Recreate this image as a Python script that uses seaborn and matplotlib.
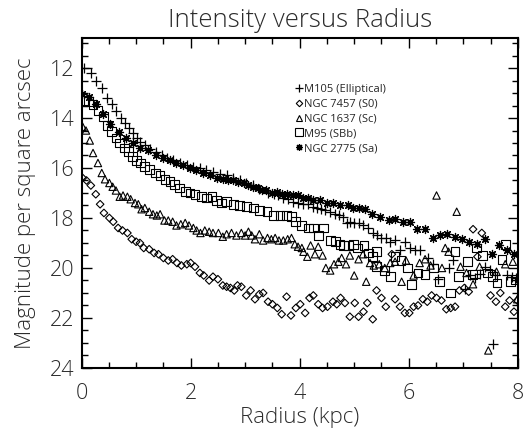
import matplotlib
matplotlib.use("Agg")
import matplotlib.pyplot as plt
from matplotlib.lines import Line2D
from matplotlib.ticker import MultipleLocator
import pandas as pd
import seaborn as sns

# (radius kpc, magnitude per square arcsec)
m105 = [
    (0.04, 12.0), (0.18, 12.2), (0.26, 12.5), (0.37, 12.8), (0.46, 13.2), (0.55, 13.45),
    (0.64, 13.7), (0.72, 14.0), (0.79, 14.2), (0.87, 14.4), (0.95, 14.6), (1.01, 14.8),
    (1.08, 14.95), (1.16, 15.1), (1.25, 15.25), (1.36, 15.35), (1.47, 15.5), (1.56, 15.6),
    (1.68, 15.7), (1.80, 15.8), (1.93, 15.9), (2.05, 15.95), (2.17, 16.0), (2.29, 16.1),
    (2.41, 16.15), (2.54, 16.25), (2.66, 16.3), (2.78, 16.4), (2.90, 16.5), (3.02, 16.6),
    (3.14, 16.7), (3.26, 16.85), (3.42, 17.0), (3.52, 17.05), (3.61, 17.1), (3.70, 17.2),
    (3.79, 17.25), (3.88, 17.35), (3.97, 17.4), (4.07, 17.45), (4.16, 17.45), (4.24, 17.55),
    (4.31, 17.6), (4.39, 17.65), (4.46, 17.7), (4.56, 17.75), (4.65, 17.85), (4.72, 17.9),
    (4.80, 17.95), (4.86, 18.2), (4.92, 18.15), (5.00, 18.2), (5.08, 18.2), (5.17, 18.3),
    (5.26, 18.4), (5.35, 18.6), (5.42, 18.7), (5.50, 18.8), (5.58, 18.8), (5.66, 18.95),
    (5.75, 18.9), (5.84, 19.3), (5.93, 18.95), (6.02, 19.2), (6.11, 19.3), (6.21, 19.3),
    (6.36, 19.6), (6.45, 19.85), (6.54, 20.45), (6.73, 20.0), (6.82, 19.7), (7.03, 20.85),
    (7.12, 20.3), (7.21, 20.4), (7.31, 20.25), (7.40, 19.95), (7.49, 20.1), (7.55, 23.05),
    (7.58, 20.3), (7.80, 20.3), (7.89, 20.35), (7.97, 20.4),
]
ngc7457 = [
    (0.02, 16.4), (0.09, 16.5), (0.17, 16.7), (0.26, 17.05), (0.34, 17.45), (0.41, 17.8),
    (0.51, 18.0), (0.58, 18.15), (0.67, 18.4), (0.75, 18.5), (0.84, 18.6), (0.92, 18.85),
    (1.00, 18.95), (1.07, 19.0), (1.14, 19.2), (1.24, 19.25), (1.33, 19.4), (1.41, 19.45),
    (1.50, 19.6), (1.59, 19.7), (1.67, 19.65), (1.75, 19.8), (1.83, 19.9), (1.93, 19.85),
    (2.00, 19.8), (2.08, 19.95), (2.17, 20.2), (2.24, 20.3), (2.34, 20.5), (2.41, 20.35),
    (2.50, 20.45), (2.59, 20.7), (2.66, 20.75), (2.73, 20.8), (2.80, 20.9), (2.86, 20.7),
    (2.93, 20.75), (3.02, 21.1), (3.10, 20.9), (3.18, 21.25), (3.26, 21.05), (3.33, 21.0),
    (3.42, 21.35), (3.50, 21.45), (3.59, 21.6), (3.67, 21.85), (3.76, 21.15), (3.84, 21.9),
    (3.93, 21.6), (4.01, 21.45), (4.10, 21.8), (4.18, 21.2), (4.25, 21.1), (4.34, 21.45),
    (4.42, 21.6), (4.51, 21.55), (4.61, 21.35), (4.68, 21.45), (4.75, 21.2), (4.83, 21.4),
    (4.92, 21.95), (5.01, 21.4), (5.08, 21.95), (5.17, 21.75), (5.24, 21.4), (5.34, 22.05),
    (5.41, 20.9), (5.50, 21.2), (5.58, 21.55), (5.69, 19.45), (5.75, 21.25), (5.84, 21.55),
    (5.93, 21.8), (6.01, 21.8), (6.09, 21.55), (6.17, 21.5), (6.26, 21.25), (6.34, 21.35),
    (6.42, 21.1), (6.51, 21.2), (6.60, 21.3), (6.69, 21.65), (6.77, 21.6), (6.85, 21.55),
    (6.93, 20.9), (7.02, 20.8), (7.10, 20.95), (7.18, 18.45), (7.26, 19.55), (7.34, 18.6),
    (7.50, 21.1), (7.60, 21.35), (7.68, 21.0), (7.77, 21.55), (7.85, 21.3), (7.93, 21.75),
    (7.99, 21.3),
]
ngc1637 = [
    (0.02, 14.35), (0.08, 14.5), (0.15, 14.9), (0.21, 15.4), (0.30, 15.8), (0.37, 16.2),
    (0.43, 16.45), (0.51, 16.6), (0.57, 16.75), (0.63, 16.9), (0.70, 17.15), (0.76, 17.1),
    (0.84, 17.15), (0.90, 17.25), (0.98, 17.4), (1.04, 17.45), (1.10, 17.65), (1.16, 17.6),
    (1.24, 17.75), (1.31, 17.85), (1.38, 17.9), (1.44, 17.85), (1.52, 18.1), (1.59, 18.1),
    (1.67, 18.15), (1.74, 18.3), (1.82, 18.25), (1.90, 18.2), (1.97, 18.3), (2.05, 18.4),
    (2.11, 18.5), (2.18, 18.6), (2.26, 18.5), (2.34, 18.55), (2.41, 18.6), (2.51, 18.6),
    (2.59, 18.75), (2.66, 18.65), (2.75, 18.6), (2.84, 18.7), (2.93, 18.6), (3.00, 18.7),
    (3.06, 18.55), (3.12, 18.7), (3.18, 18.85), (3.26, 18.65), (3.33, 18.9), (3.41, 18.8),
    (3.48, 18.85), (3.55, 18.8), (3.62, 18.9), (3.70, 18.9), (3.78, 18.85), (3.85, 18.8),
    (3.91, 19.05), (3.97, 19.15), (4.04, 19.2), (4.07, 19.35), (4.14, 19.55), (4.20, 19.1),
    (4.28, 19.45), (4.34, 19.15), (4.42, 19.5), (4.48, 20.0), (4.56, 20.1), (4.63, 19.85),
    (4.71, 19.75), (4.77, 19.6), (4.85, 19.85), (4.92, 19.5), (5.00, 20.3), (5.08, 19.65),
    (5.16, 19.45), (5.22, 20.55), (5.29, 19.8), (5.36, 19.9), (5.46, 19.85), (5.56, 20.0),
    (5.66, 19.8), (5.75, 19.75), (5.87, 20.55), (5.95, 19.7), (6.09, 20.3), (6.20, 19.8),
    (6.30, 19.65), (6.40, 19.9), (6.51, 17.1), (6.61, 20.0), (6.67, 19.2), (6.73, 19.35),
    (6.88, 17.75), (6.95, 19.95), (7.06, 20.2), (7.18, 20.65), (7.30, 19.95), (7.46, 23.3),
    (7.61, 20.15), (7.77, 19.85), (7.91, 19.75), (7.99, 21.25),
]
m95 = [
    (0.03, 13.3), (0.12, 13.35), (0.21, 13.45), (0.30, 13.7), (0.40, 13.95), (0.47, 14.3),
    (0.55, 14.55), (0.63, 14.8), (0.70, 15.0), (0.78, 15.2), (0.86, 15.35), (0.94, 15.55),
    (1.01, 15.7), (1.08, 15.8), (1.16, 15.95), (1.25, 16.05), (1.35, 16.2), (1.44, 16.3),
    (1.53, 16.45), (1.62, 16.55), (1.71, 16.65), (1.80, 16.8), (1.90, 16.95), (1.99, 17.0),
    (2.08, 17.05), (2.20, 17.15), (2.29, 17.2), (2.39, 17.15), (2.48, 17.3), (2.57, 17.4),
    (2.66, 17.35), (2.78, 17.45), (2.90, 17.5), (3.02, 17.55), (3.15, 17.6), (3.27, 17.7),
    (3.40, 17.75), (3.52, 17.9), (3.64, 17.9), (3.76, 17.9), (3.85, 17.95), (3.93, 18.15),
    (4.04, 18.3), (4.16, 18.4), (4.25, 18.4), (4.34, 18.7), (4.43, 18.4), (4.57, 18.9),
    (4.65, 18.95), (4.74, 19.05), (4.81, 19.1), (4.89, 19.1), (4.98, 19.05), (5.06, 19.2),
    (5.18, 19.1), (5.26, 19.4), (5.34, 19.55), (5.41, 19.35), (5.41, 19.95), (5.55, 20.1),
    (5.66, 20.35), (5.75, 19.55), (5.86, 19.7), (5.98, 20.0), (6.05, 20.65), (6.17, 20.2),
    (6.30, 20.25), (6.45, 20.0), (6.57, 20.55), (6.76, 21.0), (6.85, 19.35), (6.91, 20.35),
    (7.08, 19.75), (7.17, 20.25), (7.25, 19.2), (7.35, 19.5), (7.44, 20.2), (7.53, 20.35),
    (7.62, 20.6), (7.71, 19.65), (7.77, 19.05), (7.86, 20.55), (7.95, 20.45),
]
ngc2775 = [
    (0.00, 13.05), (0.14, 13.15), (0.27, 13.45), (0.40, 13.85), (0.53, 14.25), (0.69, 14.55),
    (0.81, 14.8), (0.95, 15.0), (1.07, 15.2), (1.22, 15.3), (1.36, 15.5), (1.50, 15.6),
    (1.62, 15.7), (1.74, 15.8), (1.86, 15.9), (1.98, 16.0), (2.10, 16.1), (2.22, 16.2),
    (2.35, 16.3), (2.48, 16.4), (2.60, 16.45), (2.69, 16.5), (2.78, 16.5), (2.87, 16.55),
    (2.98, 16.6), (3.06, 16.7), (3.15, 16.75), (3.24, 16.8), (3.30, 16.9), (3.39, 16.9),
    (3.49, 17.0), (3.58, 16.95), (3.67, 17.05), (3.76, 17.05), (3.87, 17.1), (3.97, 17.1),
    (4.07, 17.2), (4.16, 17.2), (4.25, 17.3), (4.37, 17.3), (4.50, 17.4), (4.62, 17.4),
    (4.74, 17.5), (4.89, 17.5), (4.98, 17.6), (5.08, 17.6), (5.20, 17.65), (5.32, 17.85),
    (5.47, 17.95), (5.63, 18.1), (5.75, 18.05), (5.89, 18.15), (6.02, 18.15), (6.16, 18.45),
    (6.30, 18.45), (6.44, 18.8), (6.57, 18.7), (6.71, 18.65), (6.85, 18.75), (6.97, 18.85),
    (7.11, 18.95), (7.25, 19.05), (7.40, 18.85), (7.52, 19.45), (7.66, 19.1), (7.80, 19.3),
    (7.93, 19.45),
]

galaxies = ["M105 (Elliptical)", "NGC 7457 (S0)", "NGC 1637 (Sc)", "M95 (SBb)", "NGC 2775 (Sa)"]
profiles = [m105, ngc7457, ngc1637, m95, ngc2775]

rows = []
for name, prof in zip(galaxies, profiles):
    for r, mag in prof:
        rows.append({"galaxy": name, "radius": r, "mag": mag})
df = pd.DataFrame(rows)

sns.set_style("ticks")
plt.rcParams["font.family"] = ["Open Sans", "DejaVu Sans"]
plt.rcParams["font.weight"] = "light"
plt.rcParams["axes.labelweight"] = "light"
plt.rcParams["axes.titleweight"] = "light"

# marker, size, filled-shape?
styles = {
    "M105 (Elliptical)": ("+", 50, False),
    "NGC 7457 (S0)": ("D", 15, True),
    "NGC 1637 (Sc)": ("^", 28, True),
    "M95 (SBb)": ("s", 40, True),
    "NGC 2775 (Sa)": ((8, 2, 0), 34, False),
}

fig, ax = plt.subplots(figsize=(5.23, 4.37), dpi=100)
fig.subplots_adjust(left=0.156, right=0.990, bottom=0.158, top=0.913)

for name in galaxies:
    sub = df[df["galaxy"] == name]
    m, s, filled = styles[name]
    if filled:
        sns.scatterplot(data=sub, x="radius", y="mag", marker=m, s=s, ax=ax,
                        facecolor="none", edgecolor="black", linewidth=0.8, legend=False)
    else:
        sns.scatterplot(data=sub, x="radius", y="mag", marker=m, s=s, ax=ax,
                        color="black", linewidth=0.9, legend=False)

ax.set_xlim(0, 8)
ax.set_ylim(24, 10.8)
ax.xaxis.set_major_locator(MultipleLocator(2))
ax.xaxis.set_minor_locator(MultipleLocator(0.5))
ax.yaxis.set_major_locator(MultipleLocator(2))
ax.yaxis.set_minor_locator(MultipleLocator(0.5))
ax.tick_params(which="both", direction="in", top=True, right=True, colors="black",
               labelcolor="#2b2b2b", labelsize=15.5, width=1)
ax.tick_params(which="major", length=7)
ax.tick_params(which="minor", length=4)
ax.tick_params(axis="x", which="major", pad=11)
ax.tick_params(axis="y", which="major", pad=5)
for sp in ax.spines.values():
    sp.set_visible(True)
    sp.set_linewidth(1.5)
    sp.set_color("black")

ax.set_xlabel("Radius (kpc)", fontsize=16, color="#2b2b2b", labelpad=2)
ax.set_ylabel("Magnitude per square arcsec", fontsize=16, color="#2b2b2b", labelpad=10)
ax.set_title("Intensity versus Radius", fontsize=18.5, color="#2b2b2b", pad=8)

handles = []
for name in galaxies:
    m, s, filled = styles[name]
    if filled:
        h = Line2D([], [], linestyle="none", marker=m, markersize=s ** 0.5 * 0.85,
                   markerfacecolor="none", markeredgecolor="black", markeredgewidth=0.8)
    else:
        h = Line2D([], [], linestyle="none", marker=m, markersize=s ** 0.5 * 0.85,
                   color="black", markeredgewidth=0.9)
    handles.append(h)
ax.legend(handles, galaxies, loc="upper left", bbox_to_anchor=(0.48, 0.875),
          frameon=False, prop={"weight": "normal", "size": 8},
          handlelength=0.6, handletextpad=0.2, labelspacing=0.35, borderaxespad=0)

fig.savefig("out.png", dpi=100)
